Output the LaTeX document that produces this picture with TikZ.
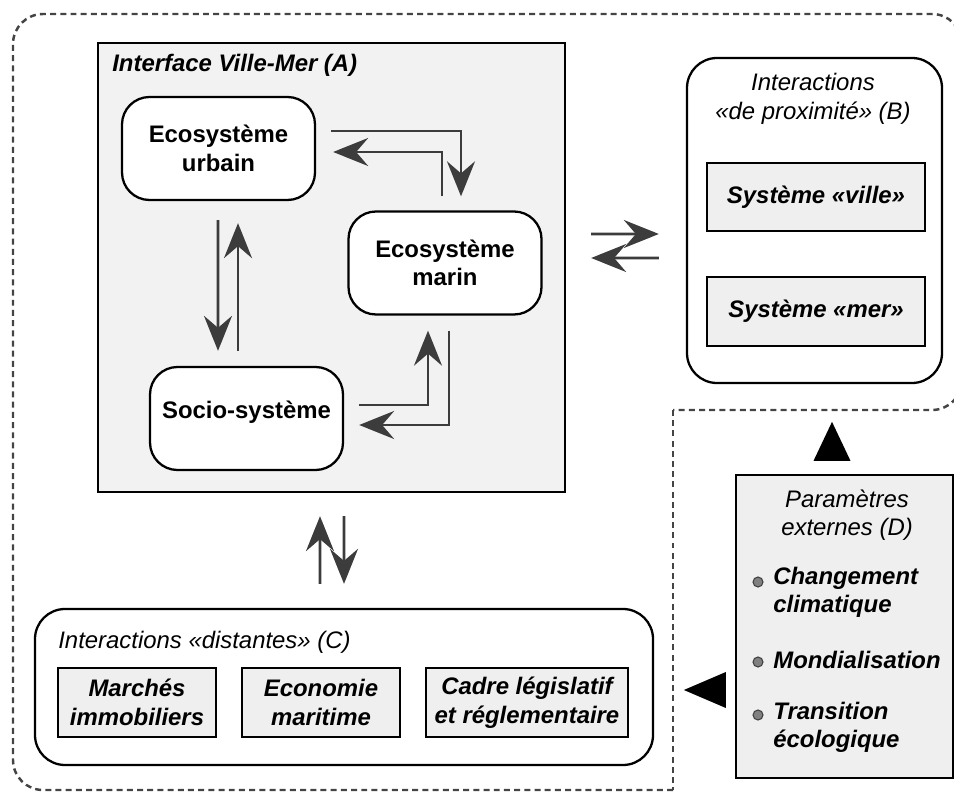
\documentclass[tikz,border=0pt]{standalone}
\usepackage{fontspec}
\setmainfont{Liberation Sans}
\usepackage{tikz}
\usetikzlibrary{arrows.meta,positioning,calc}

\definecolor{boxgray}{HTML}{EFEFEF}
\definecolor{areagray}{HTML}{F2F2F2}
\definecolor{arrowgray}{HTML}{3C3C3C}
\definecolor{dashgray}{HTML}{444444}

\begin{document}
\fontsize{13.6}{16.2}\selectfont
\begin{tikzpicture}
    \tikzstyle{zone}=[draw,line width=1.3pt,inner sep=0]
    \tikzstyle{eco}=[draw,line width=1.3pt,rounded corners=0.55cm,fill=white,minimum width=3.86cm,minimum height=2.06cm,align=center,font=\bfseries]
    \tikzstyle{sys}=[draw,line width=1.3pt,fill=boxgray,minimum height=1.37cm,align=center,font=\bfseries\itshape]
    \tikzstyle{heading}=[inner sep=0,align=center,font=\itshape]
    \tikzstyle{item}=[anchor=west,inner sep=0,align=left,font=\bfseries\itshape]
    \tikzstyle{bullet}=[circle,draw=gray!50!black,fill=gray,inner sep=0,minimum size=0.2cm,line width=0.6pt]
    \tikzstyle{flow}=[draw=arrowgray,line width=1.5pt,-{Stealth[length=7mm,width=5.6mm,inset=2.4mm]}]
    \tikzstyle{bigtip}=[fill=black]

    \useasboundingbox (0,0) rectangle (19.08,15.84);
    \clip (0,0) rectangle (19.08,15.84);

    % outer dashed area
    \draw[dashgray,line width=1.4pt,dash pattern=on 3.4pt off 2.4pt,rounded corners=0.6cm]
      (13.46,0.04) -- (0.26,0.04) -- (0.26,15.56) -- (19.24,15.56) -- (19.24,7.64) -- (13.46,7.64);
    \draw[dashgray,line width=1.4pt,dash pattern=on 3.4pt off 2.4pt] (13.46,7.64) -- (13.46,0.04);

    % interface ville-mer (A)
    \node[zone,fill=areagray,minimum width=9.34cm,minimum height=8.98cm] at (6.63,10.49) (ivm) {};
    \node[heading,anchor=west,font=\bfseries\itshape] at (2.24,14.54) (ivmt) {Interface Ville-Mer (A)};
    \node[eco] at (4.37,12.87) (urb) {Ecosystème\\urbain};
    \node[eco] at (8.90,10.58) (mar) {Ecosystème\\marin};
    \node[eco] at (4.93,7.47) (soc) {Socio-système\rule[-0.34cm]{0pt}{0pt}};

    \draw[flow] ($(urb.east)+(0.30,0.35)$) -| ($(mar.north)+(0.32,0.28)$);
    \draw[flow] ($(mar.north)+(-0.06,0.28)$) |- ($(urb.east)+(0.34,-0.07)$);
    \draw[flow] ($(urb.south)+(-0.01,-0.38)$) -- ($(soc.north)+(-0.57,0.30)$);
    \draw[flow] ($(soc.north)+(-0.17,0.30)$) -- ($(urb.south)+(0.39,-0.44)$);
    \draw[flow] ($(mar.south)+(0.08,-0.30)$) |- ($(soc.east)+(0.30,-0.13)$);
    \draw[flow] ($(soc.east)+(0.30,0.27)$) -| ($(mar.south)+(-0.34,-0.30)$);

    % interactions de proximite (B)
    \node[zone,rounded corners=0.6cm,fill=white,minimum width=5.10cm,minimum height=6.50cm] at (16.29,11.43) (prox) {};
    \node[heading] at (16.26,13.86) (proxt) {Interactions\\«de proximité» (B)};
    \node[sys,minimum width=4.36cm] at (16.32,11.90) (ville) {Système «ville»};
    \node[sys,minimum width=4.36cm] at (16.32,9.61) (mer) {Système «mer»};

    \draw[flow] ($(ivm.east)+(0.50,0.67)$) -- ($(prox.west)+(-0.54,-0.27)$);
    \draw[flow] ($(prox.west)+(-0.54,-0.75)$) -- ($(ivm.east)+(0.50,0.19)$);

    % interactions distantes (C)
    \node[zone,rounded corners=0.6cm,fill=white,minimum width=12.36cm,minimum height=3.12cm] at (6.88,2.10) (dist) {};
    \node[heading,anchor=west] at (1.16,3.00) (distt) {Interactions «distantes» (C)};
    \node[sys,minimum width=3.16cm,minimum height=1.38cm] at (2.74,1.79) (imm) {Marchés\\immobiliers};
    \node[sys,minimum width=3.16cm,minimum height=1.38cm] at (6.42,1.79) (eco) {Economie\\maritime};
    \node[sys,minimum width=4.04cm,minimum height=1.38cm] at (10.54,1.79) (cadre) {Cadre législatif\\et réglementaire};

    \draw[flow] ($(dist.north)+(-0.48,0.48)$) -- ($(ivm.south)+(-0.23,-0.46)$);
    \draw[flow] ($(ivm.south)+(0.25,-0.46)$) -- ($(dist.north)+(0,0.48)$);

    % parametres externes (D)
    \node[zone,fill=boxgray,minimum width=4.34cm,minimum height=6.06cm] at (16.89,3.31) (par) {};
    \node[heading] at (16.94,5.54) (part) {Paramètres\\externes (D)};
    \node[bullet] at (15.16,4.20) (b1) {};
    \node[bullet] at (15.16,2.60) (b2) {};
    \node[bullet] at (15.16,1.54) (b3) {};
    \node[item] at (15.46,3.99) (clim) {Changement\\climatique};
    \node[item] at (15.46,2.64) (mond) {Mondialisation};
    \node[item] at (15.46,1.29) (trans) {Transition\\écologique};

    \fill[bigtip] ($(par.north)+(-0.62,0.26)$) -- ($(par.north)+(0.12,0.26)$) -- ($(par.north)+(-0.25,1.04)$) -- cycle;
    \fill[bigtip] ($(par.west)+(-0.18,-0.91)$) -- ($(par.west)+(-0.18,-1.63)$) -- ($(par.west)+(-1.02,-1.27)$) -- cycle;
\end{tikzpicture}
\end{document}
